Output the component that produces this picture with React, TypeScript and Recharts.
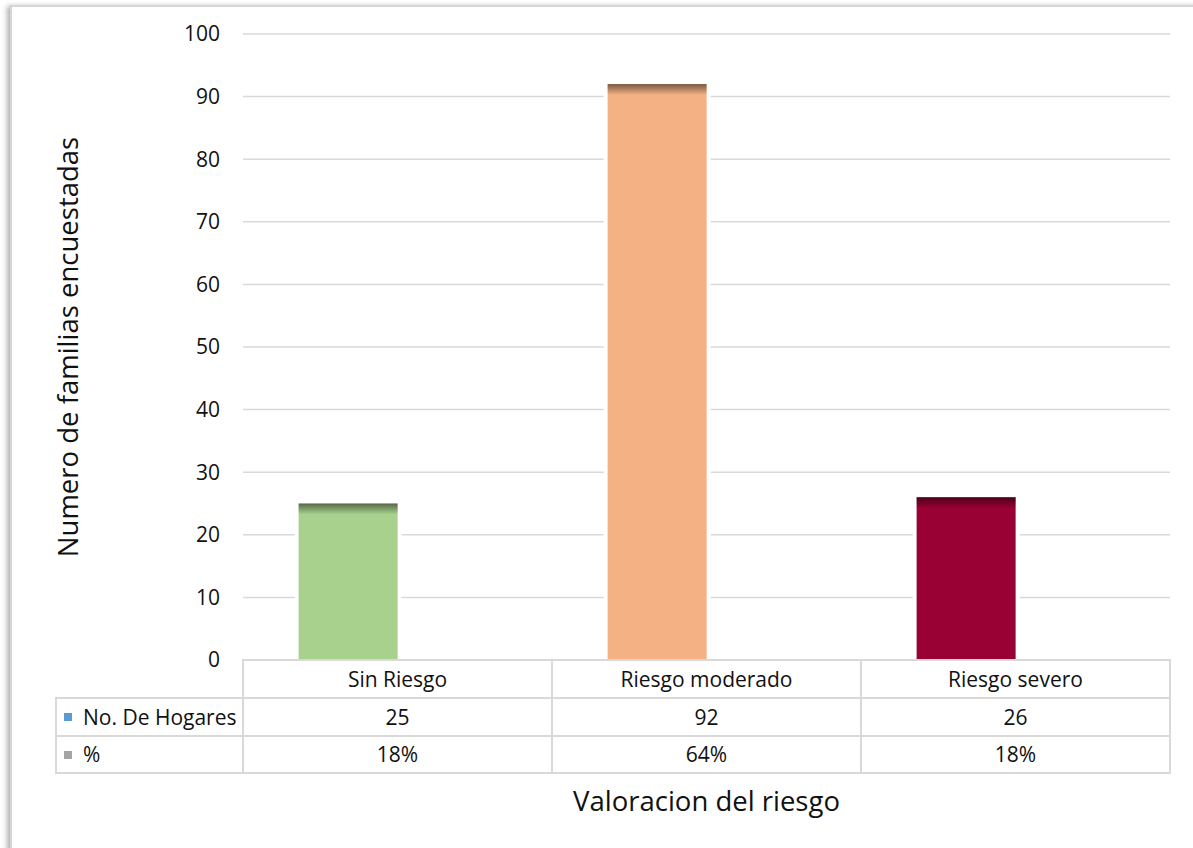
import React from "react";
import { BarChart, Bar, XAxis, YAxis, CartesianGrid, Cell } from "recharts";

const CATEGORIES = ["Sin Riesgo", "Riesgo moderado", "Riesgo severo"];
const HOGARES = [25, 92, 26];
const PORCENTAJE = [0.18, 0.64, 0.18];
const Y_TICKS = [0, 10, 20, 30, 40, 50, 60, 70, 80, 90, 100];
const SERIES = ["No. De Hogares", "%"];

const BAR_COLORS = ["#a9d18e", "#f4b183", "#990033"];
const KEY_COLORS = ["#5b9bd5", "#a5a5a5"];

const W = 1193;
const H = 848;
const M = { top: 34, right: 23, left: 0, bottom: 0 };
const Y_AXIS_W = 243;
const X_AXIS_H = 188;
const ROW_H = 38;
const KEY_COL_W = 187;
const LINE = "#d9d9d9";
const FONT = "'Open Sans', Lato, sans-serif";

const data = CATEGORIES.map((name, i) => ({ name, hogares: HOGARES[i], pct: PORCENTAJE[i] }));

const halfBand = (W - M.left - M.right - Y_AXIS_W) / CATEGORIES.length / 2;

const ShadedBar = (props: any) => {
  const { x, y, width, height, fill } = props;
  if (!height || height <= 0) return null;
  return (
    <g>
      <rect x={x - 4} y={y} width={width + 8} height={height} fill="#fff" />
      <rect x={x} y={y} width={width} height={height} fill={fill} />
      <rect x={x} y={y} width={width} height={Math.min(11, height)} fill="url(#topShade)" />
    </g>
  );
};

// the data table under the plot is drawn from the x axis ticks
const TableTick = (props: any) => {
  const { x, y, payload, index } = props;
  const i = index ?? CATEGORIES.indexOf(payload.value);
  const left = x - halfBand;
  const w = halfBand * 2;
  const txt = { fontFamily: FONT, fontSize: 21, fill: "#111", textAnchor: "middle" as const, dominantBaseline: "central" as const };
  return (
    <g>
      <rect x={left} y={y} width={w} height={ROW_H} fill="none" stroke={LINE} strokeWidth={2} />
      <rect x={left} y={y + ROW_H} width={w} height={ROW_H} fill="none" stroke={LINE} strokeWidth={2} />
      <rect x={left} y={y + ROW_H * 2} width={w} height={ROW_H - 1} fill="none" stroke={LINE} strokeWidth={2} />
      <text x={x} y={y + ROW_H / 2} {...txt}>{payload.value}</text>
      <text x={x} y={y + ROW_H * 1.5} {...txt}>{HOGARES[i]}</text>
      <text x={x} y={y + ROW_H * 2.5 - 1} {...txt}>{Math.round(PORCENTAJE[i] * 100)}%</text>
      {i === 0 &&
        SERIES.map((s, k) => (
          <g key={s}>
            <rect x={left - KEY_COL_W} y={y + ROW_H * (k + 1)} width={KEY_COL_W} height={ROW_H - k} fill="none" stroke={LINE} strokeWidth={2} />
            <rect x={left - KEY_COL_W + 8} y={y + ROW_H * (k + 1.5) - 4} width={8} height={8} fill={KEY_COLORS[k]} />
            <text x={left - KEY_COL_W + 27} y={y + ROW_H * (k + 1.5) - k} fontFamily={FONT} fontSize={21} fill="#111" dominantBaseline="central">
              {s}
            </text>
          </g>
        ))}
    </g>
  );
};

export default function App() {
  return (
    <div style={{ position: "absolute", left: 0, top: 0, width: W, height: H, overflow: "hidden", background: "#fff" }}>
      <div
        style={{
          position: "absolute",
          left: 10,
          top: 5,
          width: W,
          height: H,
          border: "2px solid #d6d6d6",
          boxShadow: "-3px 1px 5px rgba(0,0,0,0.3)",
          background: "#fff",
        }}
      />
      <div style={{ position: "absolute", left: 0, top: 0 }}>
        <BarChart width={W} height={H} data={data} margin={M} barCategoryGap="18%" barGap={0}>
          <defs>
            <linearGradient id="topShade" x1="0" y1="0" x2="0" y2="1">
              <stop offset="0" stopColor="#000" stopOpacity={0.5} />
              <stop offset="1" stopColor="#000" stopOpacity={0} />
            </linearGradient>
          </defs>
          <CartesianGrid vertical={false} stroke={LINE} strokeWidth={1.5} />
          <XAxis
            dataKey="name"
            height={X_AXIS_H}
            axisLine={false}
            tickLine={false}
            tickSize={0}
            tickMargin={0}
            interval={0}
            tick={<TableTick />}
            label={{
              content: (p: any) => {
                const vb = p.viewBox;
                return (
                  <text x={vb.x + vb.width / 2} y={800} textAnchor="middle" dominantBaseline="central" fontFamily={FONT} fontSize={27.5} fill="#111">
                    Valoracion del riesgo
                  </text>
                );
              },
            }}
          />
          <YAxis
            width={Y_AXIS_W}
            domain={[0, 100]}
            ticks={Y_TICKS}
            axisLine={false}
            tickLine={false}
            tickMargin={17}
            tick={{ fontFamily: FONT, fontSize: 21, fill: "#111" }}
            label={{
              content: (p: any) => {
                const vb = p.viewBox;
                const cx = 67;
                const cy = vb.y + vb.height / 2;
                return (
                  <text x={cx} y={cy} transform={`rotate(-90 ${cx} ${cy})`} textAnchor="middle" dominantBaseline="central" fontFamily={FONT} fontSize={27.5} fill="#111">
                    Numero de familias encuestadas
                  </text>
                );
              },
            }}
          />
          <Bar dataKey="hogares" name={SERIES[0]} shape={<ShadedBar />} isAnimationActive={false}>
            {data.map((d, i) => (
              <Cell key={d.name} fill={BAR_COLORS[i]} />
            ))}
          </Bar>
          <Bar dataKey="pct" name={SERIES[1]} fill={KEY_COLORS[1]} fillOpacity={0} isAnimationActive={false} />
        </BarChart>
      </div>
    </div>
  );
}
